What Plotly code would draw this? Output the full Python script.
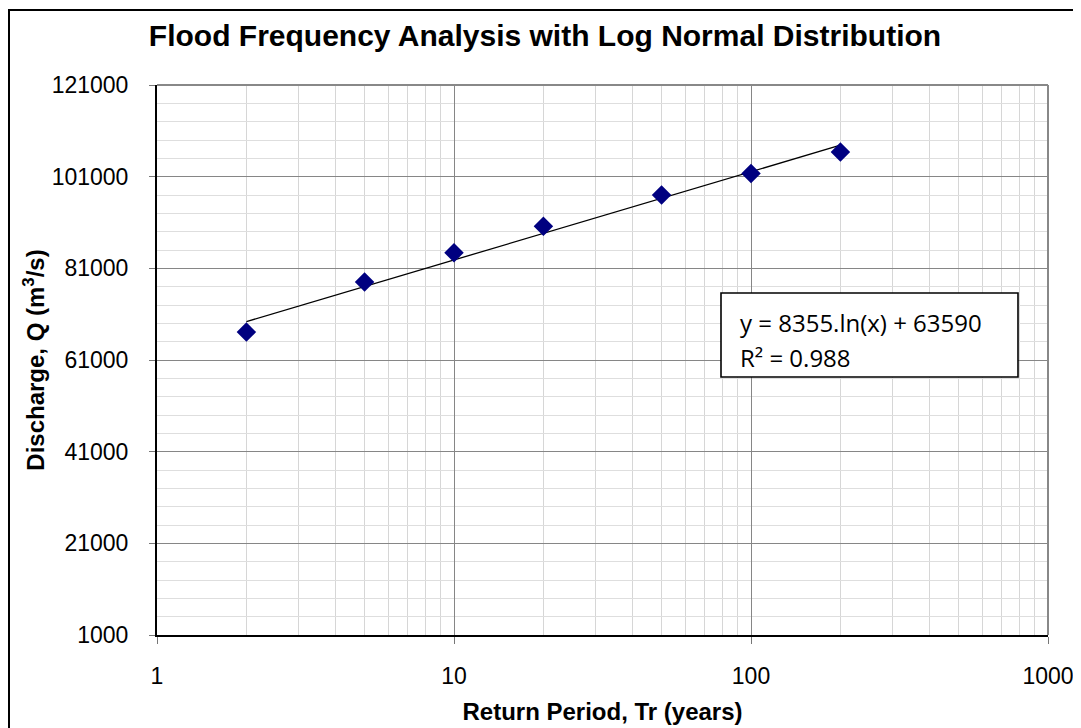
import plotly.graph_objects as go

return_period = [2, 5, 10, 20, 50, 100, 200]
discharge = [67100, 78000, 84400, 90200, 97000, 101700, 106400]
trend_x = [2, 200]
trend_y = [69380, 107860]
x_ticks = [1, 10, 100, 1000]
y_ticks = [1000, 21000, 41000, 61000, 81000, 101000, 121000]

title = "Flood Frequency Analysis with Log Normal Distribution"
eq_line1 = "y = 8355.ln(x) + 63590"
eq_line2 = "R² = 0.988"

# page body has an 8px margin, so figure pixels = reference pixels - 8
W, H = 1073, 720
L, T, R, B = 149, 77, 33, 93
PW, PH = W - L - R, H - T - B


def px(x):
    return (x - 8 - L) / PW


def py(y):
    return 1 - (y - 8 - T) / PH


fig = go.Figure()
fig.add_trace(go.Scatter(x=trend_x, y=trend_y, mode="lines",
                         line=dict(color="black", width=1.3), showlegend=False,
                         hoverinfo="skip"))
fig.add_trace(go.Scatter(x=return_period, y=discharge, mode="markers",
                         marker=dict(symbol="diamond", color="#000080", size=15,
                                     line=dict(width=0)), showlegend=False))

font_main = "Liberation Sans, Arial, sans-serif"
fig.update_layout(
    width=W, height=H,
    margin=dict(l=L, r=R, t=T, b=B, autoexpand=False),
    paper_bgcolor="white", plot_bgcolor="white",
    font=dict(family=font_main, color="black", size=23),
    title=dict(text="<b>" + title + "</b>", xref="container",
               x=(545 - 8) / W, xanchor="center",
               y=1 - (35 - 8) / H, yanchor="middle",
               font=dict(size=30, family=font_main)),
    xaxis=dict(type="log", range=[0, 3], tickvals=x_ticks,
               ticktext=[str(v) for v in x_ticks],
               automargin=False,
               showgrid=True, gridcolor="#868686", gridwidth=1,
               minor=dict(showgrid=True, gridcolor="#d6d6d6", gridwidth=1,
                          dtick="D1", ticks=""),
               showline=True, linecolor="black", linewidth=2,
               ticks="outside", ticklen=7, tickcolor="#777777",
               ticklabelstandoff=12,
               tickfont=dict(size=23),
               title=dict(text="<b>Return Period, Tr (years)</b>",
                          font=dict(size=24), standoff=16),
               zeroline=False),
    yaxis=dict(range=[1000, 121000], tickvals=y_ticks,
               ticktext=[str(v) for v in y_ticks],
               automargin=False,
               showgrid=True, gridcolor="#868686", gridwidth=1,
               minor=dict(showgrid=True, gridcolor="#dedede", gridwidth=1,
                          tick0=1000, dtick=4000, ticks=""),
               showline=True, linecolor="black", linewidth=2,
               ticks="outside", ticklen=6, tickcolor="#777777",
               ticklabelstandoff=16,
               tickfont=dict(size=23),
               title=dict(text="<b>Discharge, Q (m<sup>3</sup>/s)</b>",
                          font=dict(size=24), standoff=0),
               zeroline=False),
)

# top and right borders of the plot area (gray)
fig.add_shape(type="line", xref="paper", yref="paper", x0=0, x1=1, y0=1, y1=1,
              line=dict(color="#888888", width=2))
fig.add_shape(type="line", xref="paper", yref="paper", x0=1, x1=1, y0=0, y1=1,
              line=dict(color="#888888", width=2))

# outer chart border
fig.add_shape(type="rect", xref="paper", yref="paper",
              x0=px(9), x1=px(1200), y0=py(900), y1=py(10),
              line=dict(color="black", width=2), layer="below")

# equation box
fig.add_shape(type="rect", xref="paper", yref="paper",
              x0=px(721), x1=px(1018), y0=py(377), y1=py(293),
              line=dict(color="black", width=1.6), fillcolor="white")
eq_font = dict(size=24, family="Open Sans, Liberation Sans, sans-serif", color="black")
fig.add_annotation(xref="paper", yref="paper", x=px(738), y=py(322),
                   xanchor="left", yanchor="middle", text=eq_line1,
                   showarrow=False, font=eq_font)
fig.add_annotation(xref="paper", yref="paper", x=px(738), y=py(357),
                   xanchor="left", yanchor="middle", text=eq_line2,
                   showarrow=False, font=eq_font)

fig.write_html("out.html")
